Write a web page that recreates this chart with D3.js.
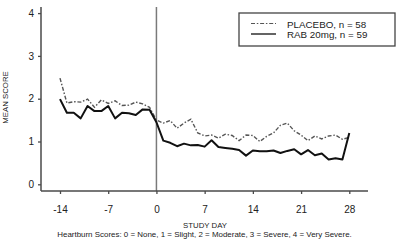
<!DOCTYPE html>
<html>
<head>
<meta charset="utf-8">
<script src="https://cdn.jsdelivr.net/npm/d3@7"></script>
<style>
  html, body { margin: 0; padding: 0; background: #fff; }
  svg { display: block; font-family: "Liberation Sans", Arial, sans-serif; }
</style>
</head>
<body>
<svg id="chart" width="400" height="242"></svg>
<script>
// ---- data ----
const days = [-14,-13,-12,-11,-10,-9,-8,-7,-6,-5,-4,-3,-2,-1,0,1,2,3,4,5,6,7,8,9,10,11,12,13,14,15,16,17,18,19,20,21,22,23,24,25,26,27,28];
const placebo = [2.48,1.90,1.93,1.92,1.99,1.80,1.97,1.89,1.95,1.84,1.85,1.92,1.88,1.80,
                 1.50,1.43,1.49,1.31,1.43,1.52,1.20,1.13,1.15,1.08,1.17,1.14,1.02,1.15,1.14,
                 1.00,1.12,1.20,1.38,1.43,1.25,1.15,1.02,1.13,1.06,1.13,1.15,1.05,1.10];
const rab = [1.99,1.67,1.67,1.54,1.83,1.71,1.71,1.83,1.54,1.67,1.66,1.62,1.75,1.74,
             1.45,1.02,0.97,0.89,0.95,0.91,0.92,0.88,1.03,0.87,0.85,0.83,0.80,0.67,0.79,
             0.77,0.77,0.79,0.73,0.78,0.82,0.70,0.80,0.68,0.72,0.58,0.61,0.58,1.20];
const xTicks = [-14,-7,0,7,14,21,28];
const yTicks = [0,1,2,3,4];
const seriesNames = ["PLACEBO, n = 58", "RAB 20mg, n = 59"];
const xTitle = "STUDY DAY";
const yTitle = "MEAN SCORE";
const footnote = "Heartburn Scores: 0 = None, 1 = Slight, 2 = Moderate, 3 = Severe, 4 = Very Severe.";

// ---- layout ----
const svg = d3.select("#chart");
const x = d3.scaleLinear().domain([-14, 28]).range([60, 349.3]);
const y = d3.scaleLinear().domain([0, 4]).range([184.3, 13.1]);
const axisLeftX = 41, axisBottomY = 191, axisTop = 7, axisRight = 368;
const axisColor = "#4a4a4a";

// vertical reference line at day 0
svg.append("line")
  .attr("x1", x(0)).attr("x2", x(0))
  .attr("y1", axisTop).attr("y2", axisBottomY)
  .attr("stroke", "#7a7a7a").attr("stroke-width", 1.5);

// x axis
const gx = svg.append("g").attr("transform", `translate(0,${axisBottomY})`)
  .call(d3.axisBottom(x).tickValues(xTicks).tickSize(3).tickPadding(11.5).tickFormat(d3.format("d")));
gx.select(".domain").remove();
gx.selectAll(".tick line").attr("stroke", axisColor).attr("stroke-width", 1.3);
gx.selectAll(".tick text").attr("fill", "#222").attr("font-size", 10)
  .attr("font-family", "Liberation Sans, Arial, sans-serif")
  .text(d => d < 0 ? "-" + Math.abs(d) : d);
svg.append("line").attr("x1", axisLeftX).attr("x2", axisRight)
  .attr("y1", axisBottomY).attr("y2", axisBottomY)
  .attr("stroke", axisColor).attr("stroke-width", 1.5);

// y axis
const gy = svg.append("g").attr("transform", `translate(${axisLeftX},0)`)
  .call(d3.axisLeft(y).tickValues(yTicks).tickSize(3).tickPadding(4).tickFormat(d3.format("d")));
gy.select(".domain").remove();
gy.selectAll(".tick line").attr("stroke", axisColor).attr("stroke-width", 1.3);
gy.selectAll(".tick text").attr("fill", "#222").attr("font-size", 10)
  .attr("font-family", "Liberation Sans, Arial, sans-serif");
svg.append("line").attr("x1", axisLeftX).attr("x2", axisLeftX)
  .attr("y1", axisTop).attr("y2", axisBottomY)
  .attr("stroke", axisColor).attr("stroke-width", 1.5);

// lines
const line = d3.line().x(d => x(d[0])).y(d => y(d[1]));
svg.append("path")
  .datum(days.map((d, i) => [d, placebo[i]]))
  .attr("d", line).attr("fill", "none")
  .attr("stroke", "#555").attr("stroke-width", 1.4)
  .attr("stroke-dasharray", "4,1.8,1.5,1.8");
svg.append("path")
  .datum(days.map((d, i) => [d, rab[i]]))
  .attr("d", line).attr("fill", "none")
  .attr("stroke", "#111").attr("stroke-width", 2)
  .attr("stroke-linejoin", "round");

// legend
const lg = svg.append("g");
lg.append("rect").attr("x", 239).attr("y", 13).attr("width", 156).attr("height", 33)
  .attr("fill", "#fff").attr("stroke", "#444").attr("stroke-width", 1.3);
lg.append("line").attr("x1", 251).attr("x2", 276).attr("y1", 23.5).attr("y2", 23.5)
  .attr("stroke", "#555").attr("stroke-width", 1.2).attr("stroke-dasharray", "4,1.8,1.5,1.8");
lg.append("line").attr("x1", 251).attr("x2", 276).attr("y1", 34).attr("y2", 34)
  .attr("stroke", "#222").attr("stroke-width", 1.4);
lg.selectAll("text.leg").data(seriesNames).enter().append("text")
  .attr("class", "leg")
  .attr("x", 287).attr("y", (d, i) => 27.5 + i * 10.3)
  .attr("font-size", 9.8).attr("fill", "#222").text(d => d);

// axis titles
svg.append("text").attr("x", 205).attr("y", 228)
  .attr("text-anchor", "middle").attr("font-size", 7.8).attr("fill", "#222").text(xTitle);
svg.append("text").attr("transform", "translate(7.5,97.5) rotate(-90)")
  .attr("text-anchor", "middle").attr("font-size", 7.8).attr("fill", "#222").text(yTitle);

// footnote
const fn = svg.append("text").attr("x", 204.5).attr("y", 237)
  .attr("text-anchor", "middle").attr("font-size", 7.5).attr("fill", "#222").text(footnote);
const w = fn.node().getComputedTextLength();
fn.attr("font-size", 7.5 * 295 / w);
</script>
</body>
</html>
